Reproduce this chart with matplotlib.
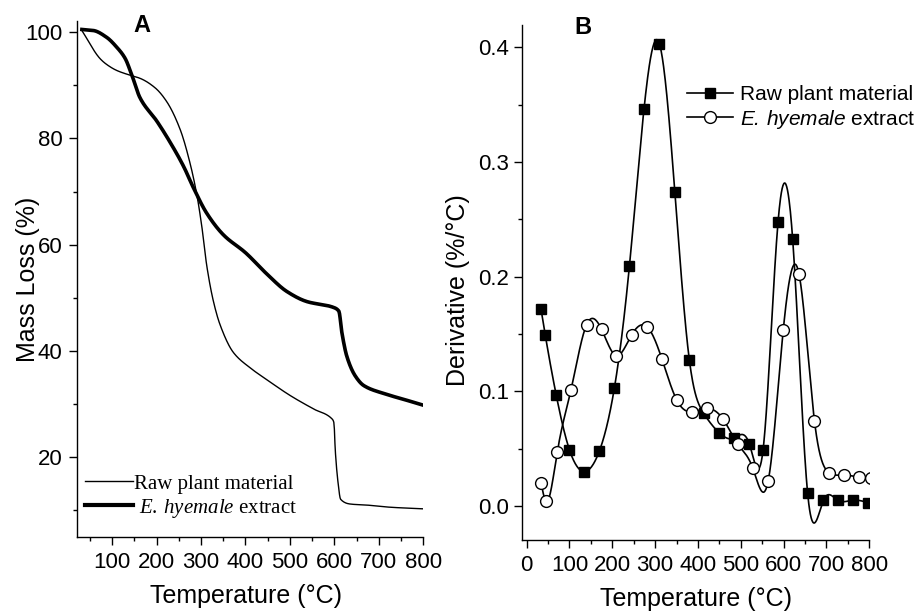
import numpy as np
import matplotlib
matplotlib.use("Agg")
import matplotlib.pyplot as plt
from matplotlib.lines import Line2D
from matplotlib.ticker import MultipleLocator

plt.rcParams['font.family'] = 'Liberation Sans'
plt.rcParams['mathtext.fontset'] = 'custom'
plt.rcParams['mathtext.rm'] = 'Liberation Serif'
plt.rcParams['mathtext.it'] = 'Liberation Serif:italic'
plt.rcParams['mathtext.sf'] = 'Liberation Sans:italic'

# panel A: TGA curves
tga_temp_raw = [32, 73, 88, 110, 140, 163, 197, 223, 253, 276, 291, 302, 313, 328, 343,
                373, 411, 448, 501, 553, 595, 599, 602, 608, 614, 636, 674, 726, 800]
tga_mass_raw = [100.3, 95.0, 93.9, 92.8, 91.9, 91.3, 89.5, 86.9, 81.7, 75.1, 69.2, 63.3,
                56.0, 49.3, 44.9, 39.7, 36.8, 34.6, 31.6, 29.1, 27.2, 26.5, 21.3, 15.4,
                12.1, 11.2, 11.0, 10.6, 10.3]
tga_temp_ext = [32, 58, 88, 110, 129, 144, 163, 201, 231, 261, 283, 313, 351, 400, 448,
                493, 538, 598, 610, 617, 628, 647, 666, 711, 756, 800]
tga_mass_ext = [100.5, 100.3, 99.0, 97.2, 95.1, 92.0, 87.6, 83.2, 79.2, 74.7, 70.7, 65.9,
                61.8, 58.5, 54.5, 51.2, 49.3, 48.2, 47.5, 43.4, 39.0, 35.3, 33.5, 32.0,
                30.9, 29.8]

# panel B: DTG points
dtg_temp_raw = [33.5, 43.6, 69, 100, 135, 170, 205, 240, 274, 310, 346, 380, 413, 449,
                483, 520, 552, 587, 621, 656, 693, 726, 761, 796]
dtg_raw = [0.172, 0.149, 0.097, 0.049, 0.030, 0.048, 0.103, 0.209, 0.346, 0.403, 0.274,
           0.127, 0.081, 0.064, 0.059, 0.054, 0.049, 0.248, 0.233, 0.011, 0.005, 0.005,
           0.005, 0.003]
dtg_temp_ext = [34, 45, 71.6, 103.5, 140, 175, 209, 245, 282, 316, 351, 386, 422, 458,
                493, 528, 564, 599, 636, 672, 706, 741, 776, 805]
dtg_ext = [0.020, 0.004, 0.047, 0.101, 0.158, 0.154, 0.131, 0.149, 0.156, 0.128, 0.092,
           0.082, 0.085, 0.076, 0.054, 0.033, 0.022, 0.153, 0.202, 0.074, 0.029, 0.027,
           0.025, 0.024]

lbl_raw = "Raw plant material"


def pchip(x, y, num=600):
    # monotone cubic through the points (keeps steps from overshooting)
    x = np.asarray(x, float)
    y = np.asarray(y, float)
    h = np.diff(x)
    d = np.diff(y) / h
    m = np.zeros_like(x)
    m[0], m[-1] = d[0], d[-1]
    for k in range(1, len(x) - 1):
        if d[k - 1] * d[k] > 0:
            w1 = 2 * h[k] + h[k - 1]
            w2 = h[k] + 2 * h[k - 1]
            m[k] = (w1 + w2) / (w1 / d[k - 1] + w2 / d[k])
    xs = np.linspace(x[0], x[-1], num)
    i = np.clip(np.searchsorted(x, xs) - 1, 0, len(x) - 2)
    t = (xs - x[i]) / h[i]
    h00 = 2 * t**3 - 3 * t**2 + 1
    h10 = t**3 - 2 * t**2 + t
    h01 = -2 * t**3 + 3 * t**2
    h11 = t**3 - t**2
    ys = h00 * y[i] + h10 * h[i] * m[i] + h01 * y[i + 1] + h11 * h[i] * m[i + 1]
    return xs, ys


def spline(x, y, num=800):
    # natural cubic spline, like the spline connection in the original
    x = np.asarray(x, float)
    y = np.asarray(y, float)
    n = len(x)
    h = np.diff(x)
    A = np.zeros((n, n))
    r = np.zeros(n)
    A[0, 0] = A[-1, -1] = 1
    for i in range(1, n - 1):
        A[i, i - 1] = h[i - 1]
        A[i, i] = 2 * (h[i - 1] + h[i])
        A[i, i + 1] = h[i]
        r[i] = 6 * ((y[i + 1] - y[i]) / h[i] - (y[i] - y[i - 1]) / h[i - 1])
    M = np.linalg.solve(A, r)
    xs = np.linspace(x[0], x[-1], num)
    j = np.clip(np.searchsorted(x, xs) - 1, 0, n - 2)
    a = (x[j + 1] - xs) / h[j]
    b = (xs - x[j]) / h[j]
    ys = a * y[j] + b * y[j + 1] + ((a**3 - a) * M[j] + (b**3 - b) * M[j + 1]) * h[j]**2 / 6
    return xs, ys


def style_axes(ax):
    ax.spines['top'].set_visible(False)
    ax.spines['right'].set_visible(False)
    for s in ('left', 'bottom'):
        ax.spines[s].set_linewidth(1.0)
    ax.tick_params(which='major', direction='out', length=5.5, width=1.0, labelsize=16, pad=5)
    ax.tick_params(which='minor', direction='out', length=3, width=1.0)


fig = plt.figure(figsize=(9.21, 6.14), dpi=100)
axA = fig.add_axes([0.0836, 0.1254, 0.376, 0.8396])
axB = fig.add_axes([0.5671, 0.1205, 0.3768, 0.8381])

# ---- A
x, y = pchip(tga_temp_raw, tga_mass_raw)
axA.plot(x, y, color='k', lw=1.0)
x, y = pchip(tga_temp_ext, tga_mass_ext)
axA.plot(x, y, color='k', lw=2.6)
axA.set_xlim(21, 800)
axA.set_ylim(5, 102)
axA.set_xticks(range(100, 801, 100))
axA.xaxis.set_minor_locator(MultipleLocator(50))
axA.set_yticks(range(20, 101, 20))
axA.yaxis.set_minor_locator(MultipleLocator(10))
style_axes(axA)
axA.set_xlabel("Temperature (°C)", fontsize=18)
axA.set_ylabel("Mass Loss (%)", fontsize=18)
axA.xaxis.set_label_coords(0.488, -0.091)
axA.yaxis.set_label_coords(-0.106, 0.5)
hA = [Line2D([], [], color='k', lw=1.0), Line2D([], [], color='k', lw=3.0)]
legA = axA.legend(hA, [lbl_raw, r" $\mathit{E.\:hyemale}$ extract"], loc='center left',
                  bbox_to_anchor=(0.023, 0.078), frameon=False, borderpad=0,
                  borderaxespad=0, handlelength=2.3, handletextpad=0.05, labelspacing=0.15,
                  prop={'family': 'Liberation Serif', 'size': 15})

# ---- B
x, y = spline(dtg_temp_raw, dtg_raw)
axB.plot(x, y, color='k', lw=1.2)
axB.plot(dtg_temp_raw, dtg_raw, 's', color='k', ms=7.5, ls='none')
x, y = spline(dtg_temp_ext, dtg_ext)
axB.plot(x, y, color='k', lw=1.2)
axB.plot(dtg_temp_ext, dtg_ext, 'o', mfc='white', mec='k', mew=1.0, ms=8.5, ls='none')
axB.set_xlim(-10, 800)
axB.set_ylim(-0.0297, 0.419)
axB.set_xticks(range(0, 801, 100))
axB.xaxis.set_minor_locator(MultipleLocator(50))
axB.set_yticks([0.0, 0.1, 0.2, 0.3, 0.4])
axB.yaxis.set_minor_locator(MultipleLocator(0.05))
style_axes(axB)
axB.tick_params(axis='y', which='major', pad=4)
axB.set_xlabel("Temperature (°C)", fontsize=18)
axB.set_ylabel("Derivative (%/°C)", fontsize=18)
axB.xaxis.set_label_coords(0.5, -0.091)
axB.yaxis.set_label_coords(-0.151, 0.486)
hB = [Line2D([], [], color='k', lw=1.2, marker='s', ms=7.5),
      Line2D([], [], color='k', lw=1.2, marker='o', ms=8.5, mfc='white', mec='k')]
legB = axB.legend(hB, [lbl_raw, r"$\mathsf{E.\:hyemale}$ extract"], loc='center left',
                  bbox_to_anchor=(0.474, 0.8395), frameon=False, borderpad=0,
                  borderaxespad=0, handlelength=2.2, handletextpad=0.37, labelspacing=0.15,
                  numpoints=1, prop={'family': 'Liberation Sans', 'size': 15})

fig.text(142 / 921, 1 - 26 / 614, "A", fontsize=17, fontweight='bold', ha='center', va='center')
fig.text(583 / 921, 1 - 28 / 614, "B", fontsize=17, fontweight='bold', ha='center', va='center')

fig.savefig("out.png", dpi=100)
